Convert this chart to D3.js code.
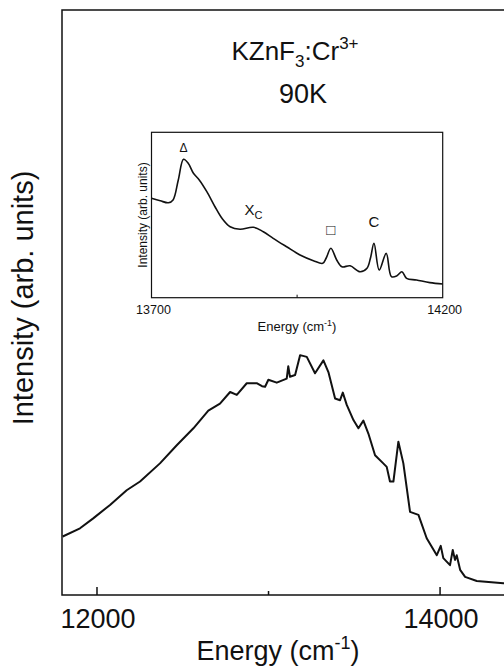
<!DOCTYPE html>
<html>
<head>
<meta charset="utf-8">
<script src="https://cdn.jsdelivr.net/npm/d3@7"></script>
<style>
  body { margin: 0; background: #fff; }
  svg text { font-family: "Liberation Sans", Arial, Helvetica, sans-serif; fill: #111; }
</style>
</head>
<body>
<div id="chart"></div>
<script>
// Main spectrum (energy in cm-1, intensity arb. units)
const mainEnergy = [11800, 11901, 11978, 12076, 12173, 12251, 12367, 12465, 12562, 12649, 12717, 12776, 12815, 12873, 12931, 12962, 12980, 12999, 13048, 13106, 13115, 13125, 13155, 13184, 13223, 13271, 13320, 13349, 13388, 13417, 13433, 13456, 13495, 13524, 13553, 13582, 13621, 13669, 13689, 13708, 13728, 13757, 13786, 13825, 13874, 13922, 13981, 14004, 14019, 14058, 14074, 14087, 14097, 14117, 14146, 14214, 14369, 14466];
const mainIntensity = [10.0, 11.4, 13.1, 15.4, 17.9, 19.4, 22.5, 25.6, 28.5, 31.5, 32.7, 34.7, 34.2, 36.2, 36.2, 35.7, 35.6, 36.8, 36.3, 37.0, 39.1, 37.3, 37.6, 41.0, 40.7, 37.9, 40.1, 38.1, 33.6, 33.3, 34.6, 32.5, 29.9, 28.5, 29.8, 27.6, 23.9, 22.5, 21.9, 19.4, 19.4, 26.2, 22.5, 14.2, 13.7, 9.7, 6.8, 8.4, 6.3, 5.1, 7.7, 6.0, 6.8, 4.3, 3.1, 2.4, 2.0, 1.9];
const mainTicks = [12000, 13000, 14000];
const mainTickLabels = ["12000", "", "14000"];

// Inset: zoom on the zero-phonon region
const insetEnergy = [13700, 13715, 13729, 13737, 13746, 13755, 13763, 13772, 13782, 13795, 13809, 13821, 13835, 13852, 13875, 13892, 13909, 13932, 13955, 13978, 13994, 14000, 14008, 14018, 14027, 14041, 14058, 14070, 14076, 14082, 14091, 14103, 14112, 14121, 14130, 14138, 14155, 14178, 14200];
const insetIntensity = [60.1, 58.6, 57.4, 59.1, 71.2, 83.7, 81.3, 75.2, 71.2, 64.1, 55.0, 48.0, 42.9, 41.4, 42.6, 39.9, 35.9, 30.8, 25.8, 22.4, 20.8, 24.0, 29.9, 22.8, 18.7, 19.3, 15.7, 17.8, 24.0, 32.9, 16.7, 26.8, 12.7, 13.1, 15.7, 11.7, 10.7, 9.1, 8.3];
const insetTicks = [13700, 13950, 14200];
const insetTickLabels = ["13700", "", "14200"];
const peakLabels = ["\u0394", "X", "\u25A1", "C"];
const peakEnergy = [13755, 13875, 14008, 14082];
const peakIntensity = [88, 50, 38, 43];

const W = 504, H = 667;
const svg = d3.select("#chart").append("svg")
    .attr("width", W)
    .attr("height", H);

// ---------- main plot ----------
const m = {left: 62, top: 10, right: 520, bottom: 595};
const x = d3.scaleLinear().domain([11796, 14466]).range([m.left, m.right]);
const y = d3.scaleLinear().domain([0, 100]).range([m.bottom, m.top]);

svg.append("rect")
    .attr("x", m.left).attr("y", m.top)
    .attr("width", m.right - m.left).attr("height", m.bottom - m.top)
    .attr("fill", "none").attr("stroke", "#111").attr("stroke-width", 1.5);

svg.append("g")
    .selectAll("line")
    .data(mainTicks)
    .enter()
    .append("line")
    .attr("x1", d => x(d)).attr("x2", d => x(d))
    .attr("y1", m.bottom).attr("y2", (d, i) => i === 1 ? m.bottom - 4 : m.bottom - 8)
    .attr("stroke", "#111").attr("stroke-width", 1.5);

svg.append("g")
    .selectAll("text")
    .data(mainTicks)
    .enter()
    .append("text")
    .attr("x", d => x(d) + 1)
    .attr("y", 628)
    .attr("text-anchor", "middle")
    .style("font-size", "27px")
    .text((d, i) => mainTickLabels[i]);

const xTitle = svg.append("text")
    .attr("x", 278).attr("y", 660)
    .attr("text-anchor", "middle")
    .style("font-size", "27px");
xTitle.append("tspan").text("Energy (cm");
xTitle.append("tspan").attr("dy", -11).style("font-size", "18px").text("-1");
xTitle.append("tspan").attr("dy", 11).text(")");

svg.append("text")
    .attr("transform", "translate(33,298) rotate(-90)")
    .attr("text-anchor", "middle")
    .style("font-size", "29px")
    .text("Intensity (arb. units)");

const line = d3.line()
    .x(d => x(d[0]))
    .y(d => y(d[1]));

svg.append("path")
    .datum(mainEnergy.map((e, i) => [e, mainIntensity[i]]))
    .attr("d", line)
    .attr("fill", "none")
    .attr("stroke", "#111")
    .attr("stroke-width", 2)
    .attr("stroke-linejoin", "round");

// title
const t1 = svg.append("text")
    .attr("x", 295).attr("y", 60)
    .attr("text-anchor", "middle")
    .style("font-size", "26px");
t1.append("tspan").text("KZnF");
t1.append("tspan").attr("dy", 7).style("font-size", "17px").text("3");
t1.append("tspan").attr("dy", -7).text(":Cr");
t1.append("tspan").attr("dy", -11).style("font-size", "17px").text("3+");

svg.append("text")
    .attr("x", 303).attr("y", 103)
    .attr("text-anchor", "middle")
    .style("font-size", "27px")
    .text("90K");

// ---------- inset ----------
const n = {left: 151.5, top: 132.3, right: 442.7, bottom: 297.7};
const xi = d3.scaleLinear().domain([13700, 14200]).range([n.left, n.right]);
const yi = d3.scaleLinear().domain([0, 100]).range([n.bottom, n.top]);

svg.append("rect")
    .attr("x", n.left).attr("y", n.top)
    .attr("width", n.right - n.left).attr("height", n.bottom - n.top)
    .attr("fill", "#fff").attr("stroke", "#111").attr("stroke-width", 1.2);

svg.append("g")
    .selectAll("line")
    .data(insetTicks.slice(1, 2))
    .enter()
    .append("line")
    .attr("x1", d => xi(d)).attr("x2", d => xi(d))
    .attr("y1", n.bottom).attr("y2", n.bottom - 3)
    .attr("stroke", "#111");

svg.append("g")
    .selectAll("text")
    .data(insetTicks)
    .enter()
    .append("text")
    .attr("x", d => xi(d) + 2)
    .attr("y", 314)
    .attr("text-anchor", "middle")
    .style("font-size", "12.5px")
    .text((d, i) => insetTickLabels[i]);

const xiTitle = svg.append("text")
    .attr("x", 297).attr("y", 331)
    .attr("text-anchor", "middle")
    .style("font-size", "13px");
xiTitle.append("tspan").text("Energy (cm");
xiTitle.append("tspan").attr("dy", -5).style("font-size", "9px").text("-1");
xiTitle.append("tspan").attr("dy", 5).text(")");

svg.append("text")
    .attr("transform", `translate(147,${(n.top + n.bottom) / 2}) rotate(-90)`)
    .attr("text-anchor", "middle")
    .style("font-size", "12px")
    .text("Intensity (arb. units)");

const lineI = d3.line()
    .x(d => xi(d[0]))
    .y(d => yi(d[1]))
    .curve(d3.curveCatmullRom.alpha(0.5));

svg.append("path")
    .datum(insetEnergy.map((e, i) => [e, insetIntensity[i]]))
    .attr("d", lineI)
    .attr("fill", "none")
    .attr("stroke", "#111")
    .attr("stroke-width", 1.6);

const labels = svg.append("g")
    .selectAll("text")
    .data(peakLabels)
    .enter()
    .append("text")
    .attr("x", (d, i) => xi(peakEnergy[i]))
    .attr("y", (d, i) => yi(peakIntensity[i]))
    .attr("text-anchor", "middle")
    .style("font-size", (d, i) => i === 0 ? "12px" : "15px")
    .text(d => d);

// subscript c on X
labels.filter(d => d === "X")
    .append("tspan")
    .attr("dy", 4)
    .style("font-size", "11px")
    .text("C");
</script>
</body>
</html>
